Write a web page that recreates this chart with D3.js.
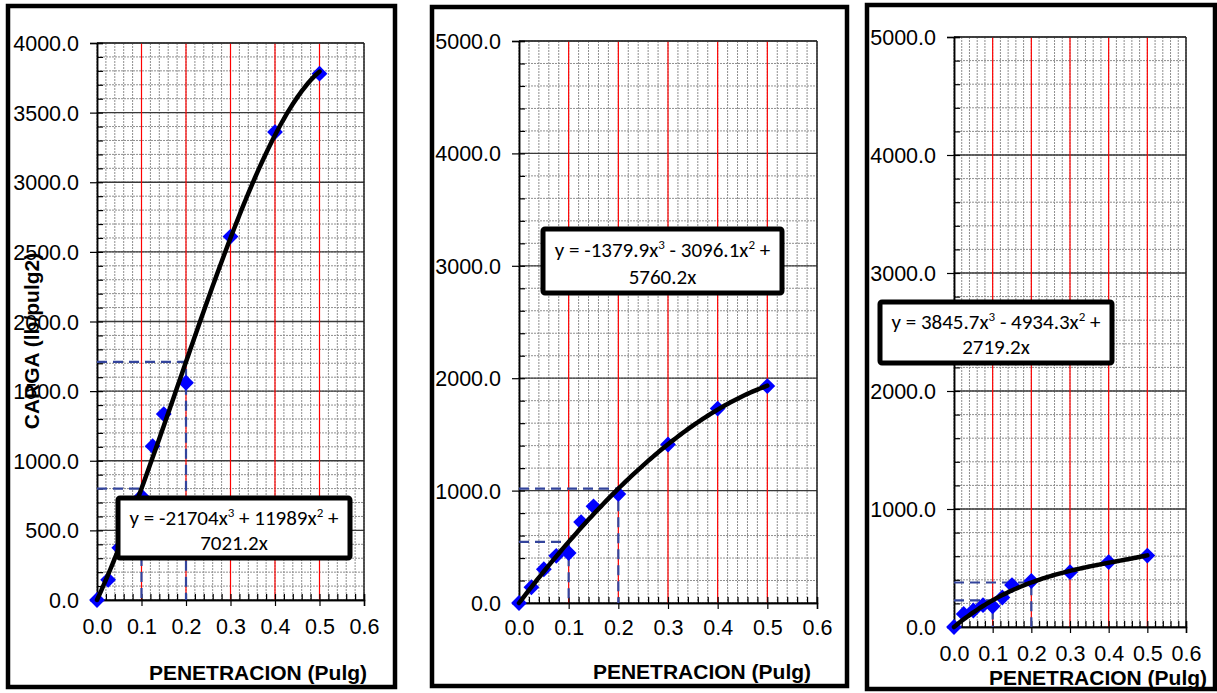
<!DOCTYPE html>
<html>
<head>
<meta charset="utf-8">
<script src="https://cdn.jsdelivr.net/npm/d3@7"></script>
<style>
  body { margin: 0; background: #fff; }
  svg { display: block; }
</style>
</head>
<body>
<div id="container"></div>
<script>
const WIDTH = 1217,
      HEIGHT = 693;

// penetracion (pulg) for every test
const penetracion = [0, 0.025, 0.05, 0.075, 0.1, 0.125, 0.15, 0.2, 0.3, 0.4, 0.5];

// carga (lb/pulg2), one array per chart
const carga1 = [0, 145, 375, 560, 745, 1105, 1335, 1560, 2610, 3360, 3780];
const carga2 = [0, 140, 300, 420, 445, 720, 860, 970, 1410, 1730, 1930];
const carga3 = [0, 110, 140, 185, 175, 250, 355, 390, 465, 550, 605];

// trend line coefficients [x^3, x^2, x]
const coef1 = [-21704, 11989, 7021.2];
const coef2 = [-1379.9, -3096.1, 5760.2];
const coef3 = [3845.7, -4934.3, 2719.2];

// equation labels: [before x^3, between, after x^2, second line]
const eq1 = ["y = -21704x", " + 11989x", " +", "7021.2x"];
const eq2 = ["y = -1379.9x", " - 3096.1x", " +", "5760.2x"];
const eq3 = ["y = 3845.7x", " - 4934.3x", " +", "2719.2x"];

const xTicks = [0, 0.1, 0.2, 0.3, 0.4, 0.5, 0.6];
const xMinor = d3.range(0, 31).map((i) => i * 0.02);
const redLines = [0.1, 0.2, 0.3, 0.4, 0.5];
const refPen = [0.1, 0.2];

const yTicks1 = [0, 500, 1000, 1500, 2000, 2500, 3000, 3500, 4000];
const yMinor1 = d3.range(0, 41).map((i) => i * 100);
const yTicks2 = [0, 1000, 2000, 3000, 4000, 5000];
const yMinor2 = d3.range(0, 26).map((i) => i * 200);

const xLabel = "PENETRACION (Pulg)";
const yLabel = "CARGA (lb/pulg2)";

const panels = [
    { frame: [8, 6, 395, 687], plot: [97, 364, 43, 600], yMax: 4000,
      yTicks: yTicks1, yMinor: yMinor1, carga: carga1, coef: coef1, eq: eq1,
      box: [118, 498, 350, 558], tickY: 626, labelX: 258, labelY: 673, yLabel: true },
    { frame: [432, 7, 847, 686], plot: [519, 817, 41, 603], yMax: 5000,
      yTicks: yTicks2, yMinor: yMinor2, carga: carga2, coef: coef2, eq: eq2,
      box: [543, 229, 782, 293], tickY: 627, labelX: 702, labelY: 672, yLabel: false },
    { frame: [867, 5, 1215, 689], plot: [954, 1186, 37, 627], yMax: 5000,
      yTicks: yTicks2, yMinor: yMinor2, carga: carga3, coef: coef3, eq: eq3,
      box: [880, 302, 1112, 363], tickY: 653, labelX: 1098, labelY: 678, yLabel: false },
];

const svg = d3.select('#container').append('svg')
              .attr("width", WIDTH).attr("height", HEIGHT)
              .style("font-family", "'Liberation Sans', Arial, sans-serif");

const poly = (c, x) => c[0] * x * x * x + c[1] * x * x + c[2] * x;

const drawPanel = (p) => {
    const [l, r, t, b] = p.plot;
    const x = d3.scaleLinear().domain([0, 0.6]).range([l, r]);
    const y = d3.scaleLinear().domain([0, p.yMax]).range([b, t]);

    const [fx0, fy0, fx1, fy1] = p.frame;
    svg.append("rect")
       .attr("x", fx0).attr("y", fy0)
       .attr("width", fx1 - fx0).attr("height", fy1 - fy0)
       .attr("fill", "#fff")
       .attr("stroke", "#000")
       .attr("stroke-width", 4.5);

    const g = svg.append("g");

    // minor grid
    g.selectAll(".vmin")
     .data(xMinor)
     .join("line")
     .attr("x1", (d) => x(d)).attr("x2", (d) => x(d))
     .attr("y1", t).attr("y2", b)
     .attr("stroke", "#8f8f8f")
     .attr("stroke-width", 1)
     .attr("stroke-dasharray", "2,1");

    g.selectAll(".hmin")
     .data(p.yMinor)
     .join("line")
     .attr("x1", l).attr("x2", r)
     .attr("y1", (d) => y(d)).attr("y2", (d) => y(d))
     .attr("stroke", "#8f8f8f")
     .attr("stroke-width", 1)
     .attr("stroke-dasharray", "2,1");

    // major horizontal grid
    g.selectAll(".hmaj")
     .data(p.yTicks)
     .join("line")
     .attr("x1", l).attr("x2", r)
     .attr("y1", (d) => y(d)).attr("y2", (d) => y(d))
     .attr("stroke", "#3a3a3a")
     .attr("stroke-width", 1.3);

    // red vertical lines
    g.selectAll(".red")
     .data(redLines)
     .join("line")
     .attr("x1", (d) => x(d)).attr("x2", (d) => x(d))
     .attr("y1", t).attr("y2", b)
     .attr("stroke", "#ff0000")
     .attr("stroke-width", 1.2);

    // plot border top/right
    g.append("line")
     .attr("x1", l).attr("x2", r).attr("y1", t).attr("y2", t)
     .attr("stroke", "#333").attr("stroke-width", 1.5);
    g.append("line")
     .attr("x1", r).attr("x2", r).attr("y1", t).attr("y2", b)
     .attr("stroke", "#222").attr("stroke-width", 1.5);

    // axes
    const xAxis = d3.axisBottom(x).tickValues(xTicks).tickSize(6)
                    .tickFormat(d3.format(".1f"));
    const xAxisMinor = d3.axisBottom(x).tickValues(xMinor).tickSize(-6)
                         .tickFormat("");
    const yAxis = d3.axisLeft(y).tickValues(p.yTicks).tickSize(7)
                    .tickFormat(d3.format(".1f"));
    const yAxisMinor = d3.axisLeft(y).tickValues(p.yMinor).tickSize(-6)
                         .tickFormat("");

    [xAxisMinor, xAxis].forEach((ax) => {
        const a = g.append("g")
                   .attr("transform", `translate(0, ${b})`)
                   .call(ax);
        a.select(".domain").attr("stroke", "#000").attr("stroke-width", 1.5);
        a.selectAll("line").attr("stroke", "#000").attr("stroke-width", 1.2);
        a.selectAll("text")
         .attr("y", p.tickY - b)
         .attr("dy", "0.35em")
         .attr("font-size", 21.5)
         .attr("fill", "#000");
    });

    [yAxisMinor, yAxis].forEach((ax) => {
        const a = g.append("g")
                   .attr("transform", `translate(${l}, 0)`)
                   .call(ax);
        a.select(".domain").attr("stroke", "#000").attr("stroke-width", 1.5);
        a.selectAll("line").attr("stroke", "#000").attr("stroke-width", 1.2);
        a.selectAll("text")
         .attr("x", -18)
         .attr("dy", "0.35em")
         .attr("font-size", 21.5)
         .attr("fill", "#000");
    });

    // dashed reference lines at 0.1 and 0.2
    refPen.forEach((xr) => {
        const yr = poly(p.coef, xr);
        g.append("path")
         .attr("d", `M${x(0)},${y(yr)}H${x(xr)}V${y(0)}`)
         .attr("fill", "none")
         .attr("stroke", "#33449c")
         .attr("stroke-width", 2.2)
         .attr("stroke-dasharray", "10,6");
    });

    // points
    g.selectAll(".pt")
     .data(penetracion.map((d, i) => ({ x: d, y: p.carga[i] })))
     .join("path")
     .attr("d", d3.symbol(d3.symbolSquare, 125))
     .attr("transform", (d) => `translate(${x(d.x)}, ${y(d.y)}) rotate(45)`)
     .attr("fill", "#0000ff");

    // trend line
    const xs = d3.range(0, 101).map((i) => i * 0.005);
    const line = d3.line().x((d) => x(d)).y((d) => y(poly(p.coef, d)));
    g.append("path")
     .attr("d", line(xs))
     .attr("fill", "none")
     .attr("stroke", "#000")
     .attr("stroke-width", 4.5)
     .attr("stroke-linecap", "round");

    // equation box
    const [bx0, by0, bx1, by1] = p.box;
    g.append("rect")
     .attr("x", bx0).attr("y", by0)
     .attr("width", bx1 - bx0).attr("height", by1 - by0)
     .attr("rx", 2)
     .attr("fill", "#fff")
     .attr("stroke", "#000")
     .attr("stroke-width", 5);

    const cx = (bx0 + bx1) / 2;
    const eqFont = "Carlito, Calibri, 'Open Sans', sans-serif";
    const t1 = g.append("text")
                .attr("x", cx).attr("y", by0 + (by1 - by0) * 0.32)
                .attr("dy", "0.35em")
                .attr("text-anchor", "middle")
                .attr("font-family", eqFont)
                .attr("font-size", 21);
    t1.append("tspan").text(p.eq[0]);
    t1.append("tspan").attr("dy", -8).attr("font-size", 13).text("3");
    t1.append("tspan").attr("dy", 8).text(p.eq[1]);
    t1.append("tspan").attr("dy", -8).attr("font-size", 13).text("2");
    t1.append("tspan").attr("dy", 8).text(p.eq[2]);

    g.append("text")
     .attr("x", cx).attr("y", by0 + (by1 - by0) * 0.74)
     .attr("dy", "0.35em")
     .attr("text-anchor", "middle")
     .attr("font-family", eqFont)
     .attr("font-size", 21)
     .text(p.eq[3]);

    // axis titles
    svg.append("text")
       .attr("x", p.labelX).attr("y", p.labelY)
       .attr("dy", "0.35em")
       .attr("text-anchor", "middle")
       .attr("font-size", 21)
       .attr("font-weight", "bold")
       .text(xLabel);

    if (p.yLabel) {
        svg.append("text")
           .attr("transform", "translate(32, 341) rotate(-90)")
           .attr("dy", "0.35em")
           .attr("text-anchor", "middle")
           .attr("font-size", 21)
           .attr("font-weight", "bold")
           .text(yLabel);
    }
}

panels.forEach(drawPanel);
</script>
</body>
</html>
